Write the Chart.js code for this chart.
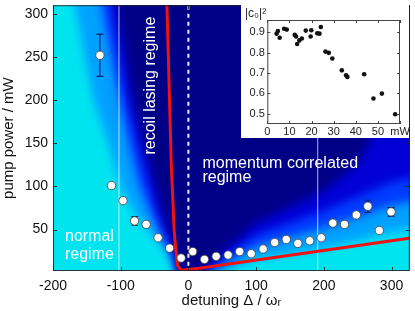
<!DOCTYPE html>
<html>
<head>
<meta charset="utf-8">
<script src="https://cdn.jsdelivr.net/npm/chart.js@4.4.1/dist/chart.umd.min.js"></script>
<style>
  html, body { margin: 0; padding: 0; background: #fff; }
  #wrap { position: relative; width: 415px; height: 311px; overflow: hidden; }
  #main { position: absolute; left: 0; top: 0; }
  #insetBox { position: absolute; left: 241px; top: 4px; width: 168px; height: 134px; background: #fff; }
</style>
</head>
<body>
<div id="wrap">
  <canvas id="main" width="415" height="311"></canvas>
  <div id="insetBox"><canvas id="inset" width="168" height="134"></canvas></div>
</div>
<script>
// ---- measured threshold points (main panel) ----
const detuning  = [-130.7, -113.6, -96.6, -79.5, -62.4, -44.8, -27.8, -10.7, 6.4, 23.7, 41.0, 58.6, 75.7,
                   92.8, 110.4, 127.4, 144.5, 161.6, 179.2, 196.2, 213.3, 230.5, 248.0, 265.0, 282.0, 299.3];
const pumpPower = [252, 101, 83.5, 60, 56, 40.5, 28.5, 17, 24.5, 15.5, 19, 20.5, 24.5,
                   22, 27.5, 35, 38.5, 34, 37, 40.5, 57.5, 56, 67, 77, 49, 70.5];
const powerErr  = [24.5, 0, 0, 5, 0, 0, 0, 0, 0, 0, 0, 0, 0,
                   0, 0, 0, 0, 0, 0, 0, 0, 0, 0, 7, 0, 5];

// red threshold curve
const redX = [-32.3, -31.7, -25.4, -21.0, -18.5, -16.1, -11.2, 15.7, 326];
const redY = [320, 310, 128, 48.6, 26, 8.8, 3.0, 5.1, 40];

// faint white seams in the map
const seamX = [-102.6, 191];

// map colour regions (detuning, power) - outlines of each shade
const cyanArea  = [[-260, -30], [420, -30], [420, 400], [-260, 400], [-260, -30]];
const lightArea = [[-180, 400], [-168, 310], [-140, 200], [-118, 150], [-100, 100], [-80, 70], [-60, 50],
                   [-40, 32], [-27, 18], [-20, 5], [-18, -10], [10, -10], [100, 16], [200, 29], [300, 47],
                   [420, 65], [420, 400]];
const blueArea  = [[-140, 400], [-128, 310], [-102, 200], [-88, 150], [-72, 100], [-56, 70], [-44, 50],
                   [-32, 32], [-22, 18], [-17, 5], [-16, -10], [5, -10], [100, 30], [200, 52], [300, 78],
                   [420, 98], [420, 400]];
const midArea   = [[-122, 400], [-114, 310], [-90, 200], [-75, 150], [-58, 100], [-46, 70], [-36, 50],
                   [-26, 32], [-19, 18], [-15, 5], [-14, -10], [2, -10], [100, 44], [200, 72], [300, 105],
                   [420, 125], [420, 400]];
const navyArea  = [[-112, 400], [-105, 310], [-82, 200], [-66, 150], [-48, 100], [-38, 70], [-30, 50],
                   [-21, 32], [-17, 18], [-13, 5], [-12, -10], [0, -10], [100, 58], [200, 95], [250, 125],
                   [280, 170], [300, 250], [310, 400]];

// ---- inset: ground state population vs pump power ----
const insetPower = [4.2, 4.8, 5.6, 7.6, 8.8, 12.4, 13.0, 13.5, 14.5, 15.6, 17.4, 19.6, 19.9,
                    22.6, 23.6, 24.2, 26.3, 27.8, 29.4, 33.7, 35.6, 36.2, 43.8, 48.0, 51.8, 57.8];
const insetC0    = [0.893, 0.906, 0.873, 0.917, 0.913, 0.887, 0.879, 0.842, 0.860, 0.869, 0.908, 0.879, 0.910,
                    0.895, 0.893, 0.926, 0.805, 0.799, 0.771, 0.713, 0.689, 0.681, 0.694, 0.575, 0.599, 0.498];

// regime labels (data coordinates)
const regimeNotes = [
  { text: 'recoil lasing regime', x: -56.4, y: 216.8, rot: -90, align: 'center' },
  { text: 'momentum correlated', x: 20.7, y: 127, rot: 0, align: 'left' },
  { text: 'regime', x: 20.7, y: 109.7, rot: 0, align: 'left' },
  { text: 'normal', x: -182.3, y: 41.5, rot: 0, align: 'left' },
  { text: 'regime', x: -182.3, y: 21.4, rot: 0, align: 'left' }
];

Chart.defaults.font.family = "'Liberation Sans', Arial, Helvetica, sans-serif";
Chart.defaults.color = '#111';

const toPts = list => list.map(p => ({ x: p[0], y: p[1] }));

function band(list, color, order, last) {
  return { data: toPts(list), order, fill: 'shape', backgroundColor: color,
           borderColor: 'transparent', borderWidth: 0, pointRadius: 0, lastBand: !!last };
}

// blur the colour regions so they blend like the original map
const softBands = {
  id: 'softBands',
  beforeDatasetsDraw(chart) { chart.ctx.save(); chart.ctx.filter = 'blur(5px)'; },
  afterDatasetDraw(chart, args) {
    if (chart.data.datasets[args.index].lastBand) chart.ctx.restore();
  }
};

// box around plot with inward ticks
const frame = {
  id: 'frame',
  afterDatasetsDraw(chart, args, opts) {
    const { ctx, chartArea: a, scales: { x, y } } = chart;
    ctx.save();
    ctx.strokeStyle = opts.color; ctx.lineWidth = 1;
    ctx.strokeRect(a.left + 0.5, a.top + 0.5, a.width - 1, a.height - 1);
    ctx.beginPath();
    x.ticks.forEach(t => {
      const px = Math.round(x.getPixelForValue(t.value)) + 0.5;
      ctx.moveTo(px, a.bottom); ctx.lineTo(px, a.bottom - opts.len);
      ctx.moveTo(px, a.top); ctx.lineTo(px, a.top + opts.len);
    });
    y.ticks.forEach(t => {
      const py = Math.round(y.getPixelForValue(t.value)) + 0.5;
      ctx.moveTo(a.left, py); ctx.lineTo(a.left + opts.len, py);
      ctx.moveTo(a.right, py); ctx.lineTo(a.right - opts.len, py);
    });
    ctx.stroke();
    ctx.restore();
  }
};

const regimeLabels = {
  id: 'regimeLabels',
  afterDatasetsDraw(chart) {
    const { ctx, scales: { x, y } } = chart;
    ctx.save();
    ctx.fillStyle = '#fff';
    ctx.font = "16px 'Liberation Sans', Arial, sans-serif";
    ctx.textBaseline = 'middle';
    regimeNotes.forEach(n => {
      ctx.save();
      ctx.translate(x.getPixelForValue(n.x), y.getPixelForValue(n.y));
      ctx.rotate(n.rot * Math.PI / 180);
      ctx.textAlign = n.align;
      ctx.fillText(n.text, 0, 0);
      ctx.restore();
    });
    ctx.restore();
  }
};

// ---- main datasets ----
const errorBars = [];
powerErr.forEach((e, i) => {
  if (!e) return;
  errorBars.push({
    data: [{ x: detuning[i], y: pumpPower[i] - e }, { x: detuning[i], y: pumpPower[i] + e }],
    order: 1, borderColor: '#16206a', borderWidth: 1.2,
    pointStyle: 'line', pointRadius: 3.5, pointBorderWidth: 1.2,
    pointBorderColor: '#16206a', pointBackgroundColor: '#16206a'
  });
});

const seams = seamX.map(sx => ({
  data: [{ x: sx, y: -10 }, { x: sx, y: 400 }], order: 4,
  borderColor: 'rgba(255,255,255,0.7)', borderWidth: 1, pointRadius: 0
}));

const mainChart = new Chart(document.getElementById('main'), {
  type: 'line',
  data: {
    datasets: [
      { data: detuning.map((x, i) => ({ x, y: pumpPower[i] })), order: 0, showLine: false,
        pointRadius: 4.2, pointBackgroundColor: '#fff', pointBorderColor: 'rgba(70,70,70,0.85)', pointBorderWidth: 1 },
      ...errorBars,
      { data: redX.map((x, i) => ({ x, y: redY[i] })), order: 2, borderColor: '#f01212', borderWidth: 3, pointRadius: 0 },
      { data: [{ x: 0, y: 8 }, { x: 0, y: 312 }], order: 3, borderColor: 'rgba(255,255,255,0.92)',
        borderWidth: 2, borderDash: [4, 4], pointRadius: 0 },
      ...seams,
      band(navyArea, 'rgb(0,0,135)', 5, true),
      band(midArea, 'rgb(0,0,215)', 6),
      band(blueArea, 'rgb(0,60,255)', 7),
      band(lightArea, 'rgb(0,160,255)', 8),
      band(cyanArea, 'rgb(0,228,240)', 9)
    ]
  },
  options: {
    responsive: false, animation: false, events: [],
    layout: { padding: { left: 0, top: 0, right: 3, bottom: 0 } },
    plugins: {
      legend: { display: false }, tooltip: { enabled: false },
      frame: { color: 'rgba(30,30,30,0.85)', len: 4 }
    },
    scales: {
      x: {
        type: 'linear', min: -200, max: 327,
        ticks: { stepSize: 100, includeBounds: false, padding: 7, color: '#111', font: { size: 14 } },
        grid: { display: false, drawTicks: false }, border: { display: false },
        title: { display: true, text: 'detuning Δ / ωᵣ', color: '#111', font: { size: 15 }, padding: { top: 0, bottom: 1 } },
        afterFit(s) { s.height = 40; s.paddingLeft = 0; s.paddingRight = 0; }
      },
      y: {
        type: 'linear', min: 2, max: 310,
        ticks: { stepSize: 50, includeBounds: false, padding: 5, color: '#111', font: { size: 14 } },
        grid: { display: false, drawTicks: false }, border: { display: false },
        title: { display: true, text: 'pump power / mW', color: '#111', font: { size: 15 }, padding: { top: 0, bottom: 0 } },
        afterFit(s) { s.width = 53; s.paddingTop = 0; s.paddingBottom = 0; }
      }
    }
  },
  plugins: [softBands, regimeLabels, frame]
});

// ---- inset ----
const insetChart = new Chart(document.getElementById('inset'), {
  type: 'scatter',
  data: {
    datasets: [{
      data: insetPower.map((x, i) => ({ x, y: insetC0[i] })),
      pointRadius: 2.3, pointBackgroundColor: '#111', pointBorderColor: '#111', pointBorderWidth: 0
    }]
  },
  options: {
    responsive: false, animation: false, events: [],
    layout: { padding: { left: 4, top: 0, right: 9, bottom: 0 } },
    plugins: {
      legend: { display: false }, tooltip: { enabled: false },
      title: { display: true, text: '|c₀|²', align: 'start', color: '#222',
               font: { size: 12, lineHeight: 1.0, weight: 'normal' }, padding: { top: 4, bottom: 0 } },
      frame: { color: '#444', len: 3 }
    },
    scales: {
      x: {
        type: 'linear', min: 0, max: 60,
        ticks: { stepSize: 10, padding: 1, color: '#222', font: { size: 11 },
                 maxRotation: 0, minRotation: 0, autoSkip: false,
                 callback: v => (v === 60 ? 'mW' : v) },
        grid: { display: false, drawTicks: false }, border: { display: false },
        afterFit(s) { s.height = 14; s.paddingLeft = 0; s.paddingRight = 0; }
      },
      y: {
        type: 'linear', min: 0.45, max: 0.96,
        ticks: { stepSize: 0.1, includeBounds: false, padding: 2.5, color: '#222', font: { size: 11 } },
        grid: { display: false, drawTicks: false }, border: { display: false },
        afterFit(s) { s.width = 22.3; s.paddingTop = 0; s.paddingBottom = 0; }
      }
    }
  },
  plugins: [frame]
});
</script>
</body>
</html>
